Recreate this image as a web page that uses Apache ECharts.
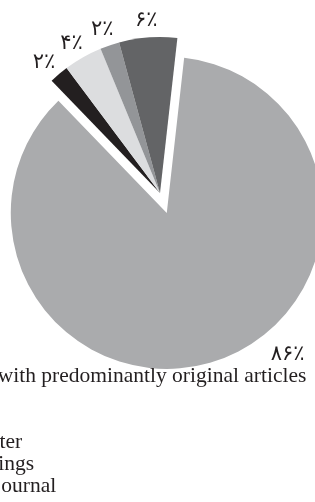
<!DOCTYPE html>
<html>
<head>
<meta charset="utf-8">
<script src="https://cdn.jsdelivr.net/npm/echarts@6/dist/echarts.min.js"></script>
<style>
  html, body { margin: 0; padding: 0; background: #fff; }
  #chart { width: 315px; height: 502px; }
</style>
</head>
<body>
<div id="chart"></div>
<script>
// slices, clockwise from the upper left
const categories = ['Book', 'Newsletter', 'Proceedings', 'Iranian journal', 'Journal with predominantly original articles', 'Thesis'];
const shares = [2, 4, 2, 6, 86, 0];
const sliceColors = ['#231f20', '#dcdddf', '#939598', '#636466', '#aaabad', '#ffffff'];
const legendOrder = ['Journal with predominantly original articles', 'Book', 'Thesis', 'Newsletter', 'Proceedings', 'Iranian journal'];
const faDigits = ['۰', '۱', '۲', '۳', '۴', '۵', '۶', '۷', '۸', '۹'];

function toFa(n) {
  return String(n).replace(/[0-9]/g, d => faDigits[+d]);
}

const bigName = 'Journal with predominantly original articles';

const pieData = categories.map((name, i) => ({
  name: name,
  value: shares[i],
  selected: name === bigName,
  itemStyle: { color: sliceColors[i] }
}));

const labelData = categories.map((name, i) => ({
  name: name,
  value: shares[i],
  label: {
    show: shares[i] > 0,
    offset: name === bigName ? [70, -8] : [0, 6]
  }
}));

const option = {
  backgroundColor: '#ffffff',
  animation: false,
  color: sliceColors,
  legend: {
    orient: 'vertical',
    left: -101,
    top: 365,
    height: 200,
    padding: 0,
    itemGap: 0,
    itemWidth: 25,
    itemHeight: 14,
    selectedMode: false,
    data: legendOrder,
    textStyle: {
      fontFamily: 'Liberation Serif',
      fontSize: 21.5,
      lineHeight: 21,
      color: '#231f20'
    }
  },
  series: [
    {
      type: 'pie',
      center: [160, 193],
      radius: 156,
      startAngle: 134,
      selectedMode: 'single',
      selectedOffset: 21,
      avoidLabelOverlap: false,
      itemStyle: { borderWidth: 0 },
      label: { show: false },
      labelLine: { show: false },
      emphasis: { disabled: true },
      data: pieData
    },
    {
      // transparent ring that only carries the percentage labels
      type: 'pie',
      center: [160, 193],
      radius: [158, 194],
      startAngle: 134,
      silent: true,
      avoidLabelOverlap: false,
      itemStyle: { color: 'rgba(0,0,0,0)', borderWidth: 0 },
      label: {
        position: 'inside',
        fontFamily: 'DejaVu Sans',
        fontSize: 21,
        color: '#231f20',
        formatter: p => toFa(p.value) + '٪'
      },
      labelLine: { show: false },
      emphasis: { disabled: true },
      data: labelData
    }
  ]
};

const chart = echarts.init(document.getElementById('chart'));
chart.setOption(option);
</script>
</body>
</html>
